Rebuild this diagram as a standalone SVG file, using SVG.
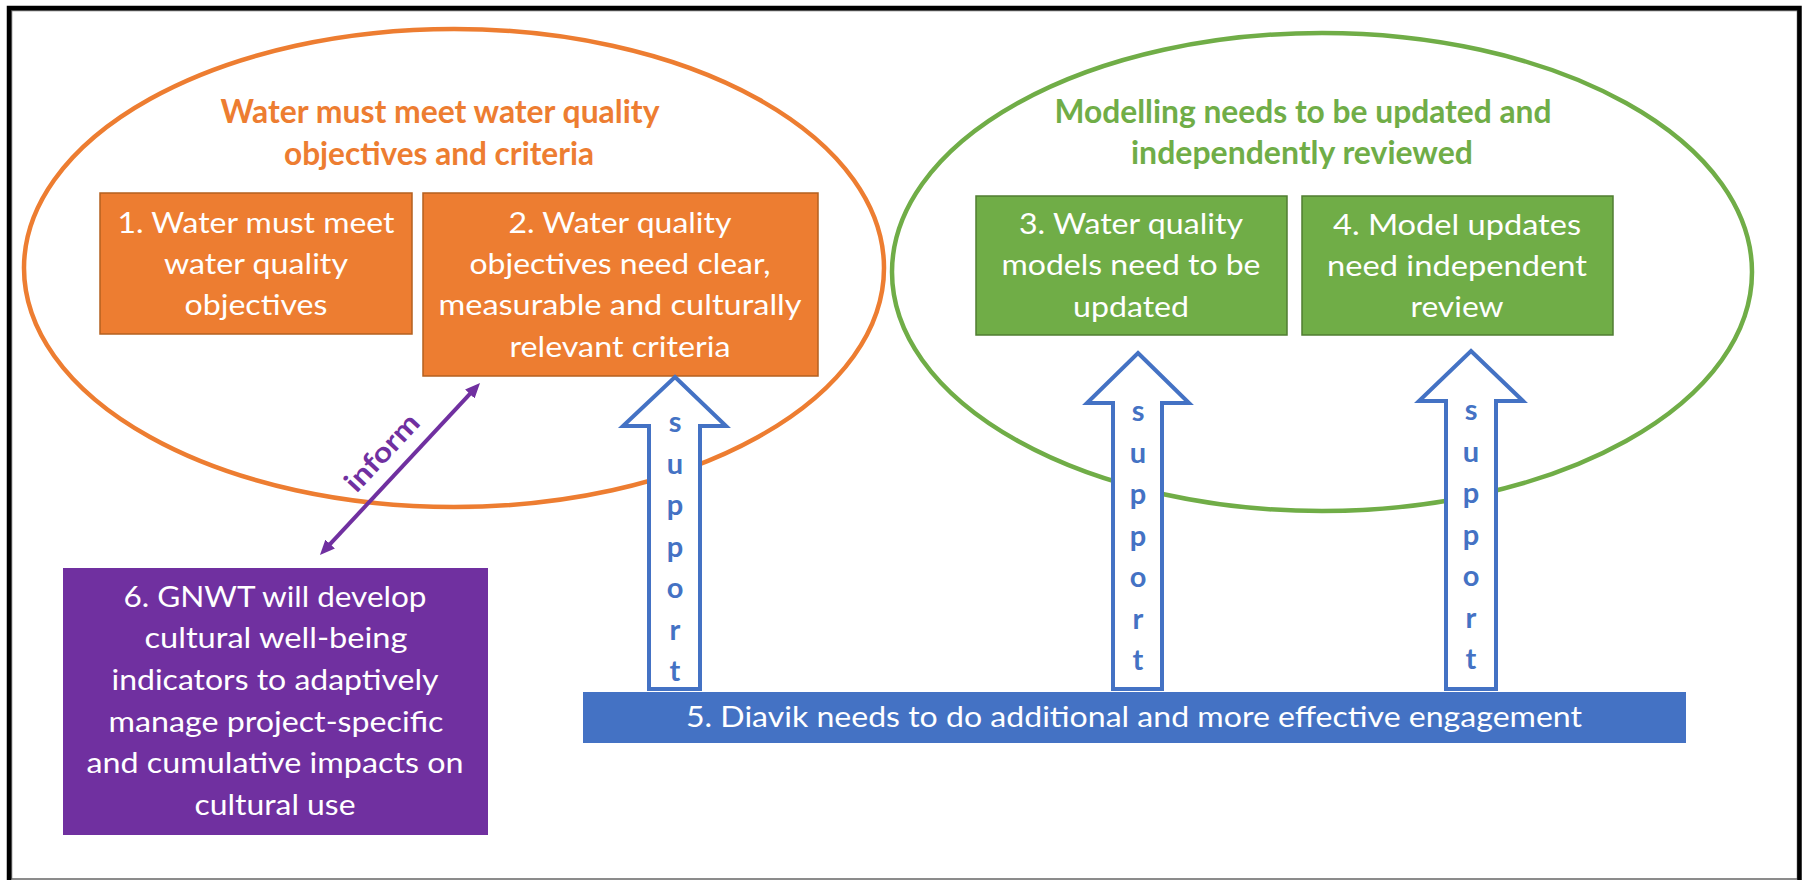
<svg xmlns="http://www.w3.org/2000/svg" width="1805" height="880" viewBox="0 0 1805 880">
<defs>
<style>
.bt{font-family:Lato,"Liberation Sans",sans-serif;font-size:28px;fill:#fff;text-anchor:middle}
.tt{font-family:Lato,"Liberation Sans",sans-serif;font-size:32px;font-weight:bold;text-anchor:middle}
.sp{font-family:Lato,"Liberation Sans",sans-serif;font-size:29px;font-weight:bold;fill:#4472C4;text-anchor:middle}
.arr{fill:#fff;stroke:#4472C4;stroke-width:4;stroke-linejoin:miter}
.ob{fill:#ED7D31;stroke:#B4601F;stroke-width:1.5}
.gb{fill:#70AD47;stroke:#507E32;stroke-width:1.5}
</style>
<marker id="ph" viewBox="0 0 15 13" markerUnits="userSpaceOnUse" markerWidth="15" markerHeight="13" refX="7" refY="6.5" orient="auto-start-reverse">
<path d="M0,0 L15,6.5 L0,13 Z" fill="#7030A0"/>
</marker>
</defs>
<rect width="1805" height="880" fill="#fff"/>
<rect x="11.5" y="10.5" width="1786" height="868.5" fill="none" stroke="#666" stroke-width="1.5"/>
<path d="M9,880 V8 H1799.5 V880" fill="none" stroke="#000" stroke-width="4.5"/>

<g id="group-water">
<ellipse cx="454" cy="268" rx="430" ry="239" fill="none" stroke="#ED7D31" stroke-width="4.5"/>
<text class="tt" fill="#ED7D31" x="440" y="123" textLength="439" lengthAdjust="spacingAndGlyphs">Water must meet water quality</text>
<text class="tt" fill="#ED7D31" x="439" y="165" textLength="310" lengthAdjust="spacingAndGlyphs">objectives and criteria</text>
</g>

<g id="group-modelling">
<ellipse cx="1322" cy="272" rx="430" ry="239" fill="none" stroke="#70AD47" stroke-width="4.5"/>
<text class="tt" fill="#70AD47" x="1303" y="123" textLength="497" lengthAdjust="spacingAndGlyphs">Modelling needs to be updated and</text>
<text class="tt" fill="#70AD47" x="1302" y="164" textLength="342" lengthAdjust="spacingAndGlyphs">independently reviewed</text>
</g>

<g id="node1">
<rect class="ob" x="100" y="193" width="312" height="141"/>
<text class="bt" x="256" y="233" textLength="277" lengthAdjust="spacingAndGlyphs">1. Water must meet</text>
<text class="bt" x="256" y="274" textLength="184" lengthAdjust="spacingAndGlyphs">water quality</text>
<text class="bt" x="256" y="315" textLength="143" lengthAdjust="spacingAndGlyphs">objectives</text>
</g>

<g id="node2">
<rect class="ob" x="423" y="193" width="395" height="183"/>
<text class="bt" x="620" y="233" textLength="223" lengthAdjust="spacingAndGlyphs">2. Water quality</text>
<text class="bt" x="620" y="274" textLength="301" lengthAdjust="spacingAndGlyphs">objectives need clear,</text>
<text class="bt" x="620" y="315" textLength="363" lengthAdjust="spacingAndGlyphs">measurable and culturally</text>
<text class="bt" x="620" y="357" textLength="221" lengthAdjust="spacingAndGlyphs">relevant criteria</text>
</g>

<g id="node3">
<rect class="gb" x="976" y="196" width="311" height="139"/>
<text class="bt" x="1131" y="234" textLength="224" lengthAdjust="spacingAndGlyphs">3. Water quality</text>
<text class="bt" x="1131" y="275" textLength="259" lengthAdjust="spacingAndGlyphs">models need to be</text>
<text class="bt" x="1131" y="317" textLength="116" lengthAdjust="spacingAndGlyphs">updated</text>
</g>

<g id="node4">
<rect class="gb" x="1302" y="196" width="311" height="139"/>
<text class="bt" x="1457" y="235" textLength="248" lengthAdjust="spacingAndGlyphs">4. Model updates</text>
<text class="bt" x="1457" y="276" textLength="260" lengthAdjust="spacingAndGlyphs">need independent</text>
<text class="bt" x="1457" y="317" textLength="93" lengthAdjust="spacingAndGlyphs">review</text>
</g>

<g id="connectors">
<g id="support1">
<path class="arr" d="M675,377 L726,426 L700,426 L700,689 L649,689 L649,426 L623,426 Z"/>
<text class="sp" x="675"><tspan x="675" y="432">s</tspan><tspan x="675" y="473.5">u</tspan><tspan x="675" y="515">p</tspan><tspan x="675" y="556.5">p</tspan><tspan x="675" y="598">o</tspan><tspan x="675" y="639.5">r</tspan><tspan x="675" y="681">t</tspan></text>
</g>
<g id="support2">
<path class="arr" d="M1138,353 L1189,403 L1162,403 L1162,689 L1113,689 L1113,403 L1087,403 Z"/>
<text class="sp"><tspan x="1138" y="421">s</tspan><tspan x="1138" y="462.5">u</tspan><tspan x="1138" y="504">p</tspan><tspan x="1138" y="545.5">p</tspan><tspan x="1138" y="587">o</tspan><tspan x="1138" y="628.5">r</tspan><tspan x="1138" y="670">t</tspan></text>
</g>
<g id="support3">
<path class="arr" d="M1471,351 L1523,401 L1496,401 L1496,689 L1446,689 L1446,401 L1419,401 Z"/>
<text class="sp"><tspan x="1471" y="420">s</tspan><tspan x="1471" y="461.5">u</tspan><tspan x="1471" y="503">p</tspan><tspan x="1471" y="544.5">p</tspan><tspan x="1471" y="586">o</tspan><tspan x="1471" y="627.5">r</tspan><tspan x="1471" y="669">t</tspan></text>
</g>
<g id="inform">
<path d="M474.6,388.9 L325.4,549.1" stroke="#7030A0" stroke-width="4" fill="none" marker-start="url(#ph)" marker-end="url(#ph)"/>
<text transform="translate(389,459) rotate(-47)" font-family="Lato,'Liberation Sans',sans-serif" font-size="28" font-weight="bold" fill="#7030A0" text-anchor="middle" textLength="95" lengthAdjust="spacingAndGlyphs">inform</text>
</g>
</g>

<g id="node5">
<rect x="583" y="692" width="1103" height="51" fill="#4472C4"/>
<text class="bt" x="1134" y="727" textLength="896" lengthAdjust="spacingAndGlyphs">5. Diavik needs to do additional and more effective engagement</text>
</g>

<g id="node6">
<rect x="63" y="568" width="425" height="267" fill="#7030A0"/>
<text class="bt" x="275" y="607" textLength="303" lengthAdjust="spacingAndGlyphs">6. GNWT will develop</text>
<text class="bt" x="276" y="648" textLength="263" lengthAdjust="spacingAndGlyphs">cultural well-being</text>
<text class="bt" x="275" y="690" textLength="327" lengthAdjust="spacingAndGlyphs">indicators to adaptively</text>
<text class="bt" x="276" y="732" textLength="335" lengthAdjust="spacingAndGlyphs">manage project-specific</text>
<text class="bt" x="275" y="773" textLength="377" lengthAdjust="spacingAndGlyphs">and cumulative impacts on</text>
<text class="bt" x="275" y="815" textLength="161" lengthAdjust="spacingAndGlyphs">cultural use</text>
</g>
</svg>
